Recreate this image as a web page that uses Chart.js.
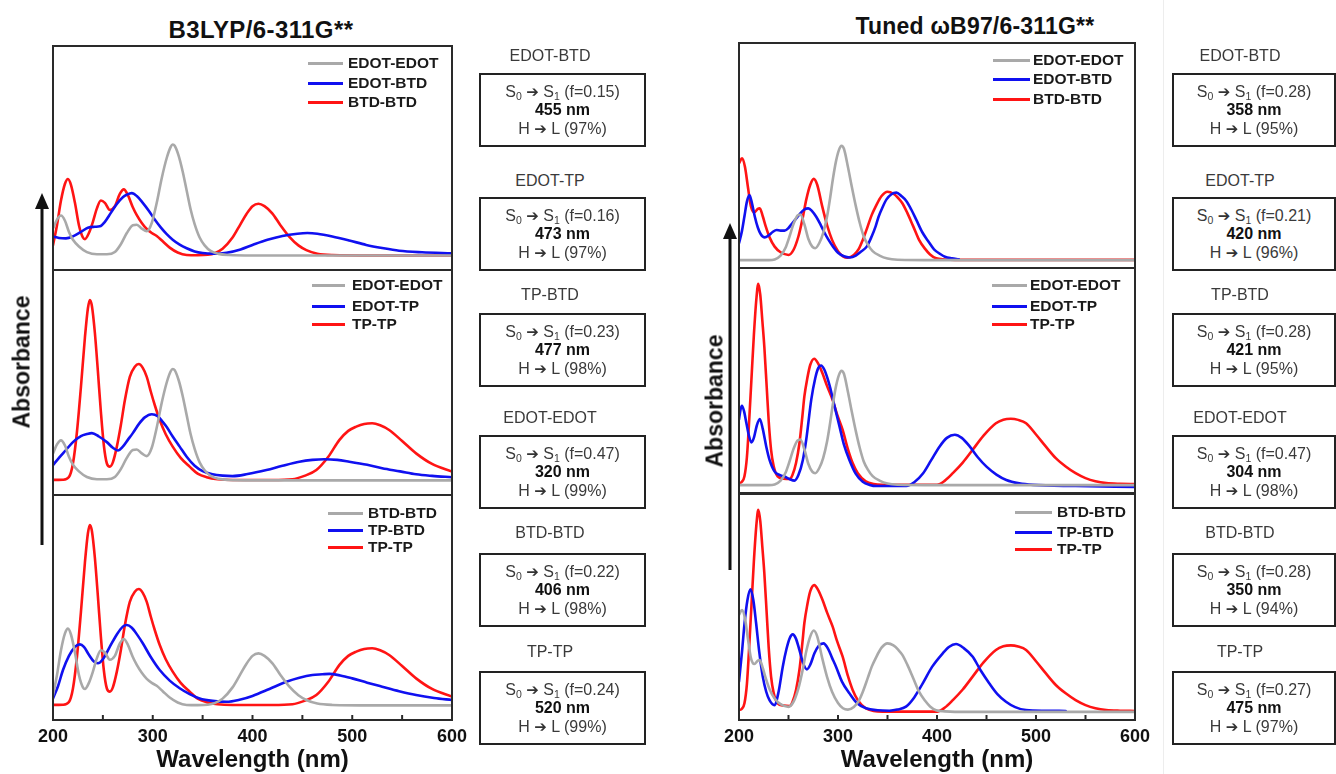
<!DOCTYPE html>
<html><head><meta charset="utf-8">
<script src="https://cdn.jsdelivr.net/npm/chart.js@4.4.1/dist/chart.umd.min.js"></script>
<style>
html,body{margin:0;padding:0;width:1336px;height:774px;overflow:hidden;background:#fff;font-family:"Liberation Sans",Arial,sans-serif;}
body{position:relative;}
canvas{position:absolute;}
.abs{position:absolute;white-space:nowrap;}
.title{font-weight:bold;color:#111;transform:translate(-50%,-50%);line-height:1;}
.ylab{font-weight:bold;font-size:23px;color:#111;transform:translate(-50%,-50%) rotate(-90deg);line-height:1;}
.leg{font-weight:bold;font-size:15.5px;color:#1a1a1a;line-height:18px;height:18px;}
.legline{position:absolute;height:3px;}
.lbl{font-size:16px;color:#3a3a3a;transform:translate(-50%,-50%);line-height:1;}
.box{position:absolute;border:2px solid #222;box-sizing:border-box;text-align:center;font-size:16px;color:#3a3a3a;line-height:18.5px;padding-top:7.5px;white-space:nowrap;overflow:hidden;}
.box b{color:#111;}
.box sub{font-size:10.5px;vertical-align:-3px;line-height:0;}
.arr{font-family:"DejaVu Sans",sans-serif;font-size:15px;color:#333;font-weight:bold;line-height:0;}
</style></head><body>
<div class="abs" style="left:1163px;top:0;width:1px;height:774px;background:#ededed;"></div>
<svg class="abs" style="left:0;top:0" width="1336" height="774">
  <line x1="42" y1="545" x2="42" y2="206" stroke="#111" stroke-width="3"/>
  <polygon points="35,209 49,209 42,193" fill="#111"/>
  <line x1="730" y1="570" x2="730" y2="236" stroke="#111" stroke-width="3"/>
  <polygon points="723,239 737,239 730,223" fill="#111"/>
</svg>
<script>
// ---------- data (wavelength in nm, absorbance in arbitrary units 0-100 per sub-panel) ----------
// B3LYP/6-311G**
const B3_EE_NM  = [200,204,208,212,216,220,226,234,244,254,262,268,274,280,284,289,294,299,304,309,314,318,320,322,326,330,334,338,342,347,352,358,366,376,400,600];
const B3_EE_ABS = [18.5,22.5,24.3,22,17,13.5,10.5,8,7,7,8,11.5,16.5,20,20.2,18.5,17.3,21,30,41,50,55,56,55.5,51,44,35.5,27,20.5,14.5,11,8.5,7.2,6.7,6.5,6.5];
const B3_EB_NM  = [200,206,213,220,228,235,242,247,252,258,264,270,274,279,284,290,296,302,308,314,320,327,334,342,350,360,374,388,400,415,430,445,455,465,480,497,514,530,547,570,600];
const B3_EB_ABS = [14.9,14.3,14.1,15,17,18.9,19.3,19.5,21.5,25.5,29.5,32.5,33.6,34.3,33,30,26.5,22.5,19,16,13.5,11.3,9.7,8.3,7.6,7.3,7.7,9.2,11.2,13.5,15.2,16.2,16.5,16.2,15,13.2,11.2,9.8,8.6,7.9,7.4];
const B3_BB_NM  = [200,204,208,212,215,218,222,226,230,232,236,240,244,248,252,257,262,267,271,275,280,284,289,294,299,304,310,317,325,334,345,355,362,370,380,388,394,400,406,412,420,428,437,446,454,465,480,520,600];
const B3_BB_ABS = [11,20,31,38.5,40.6,38,30,20,14.5,13.8,16.5,21.5,27.5,31,30,26.8,28.5,34,36,33.5,28,24.5,21,18.3,16.5,15.2,12.8,10,7.8,6.7,6.6,6.8,7.5,9.5,14.5,20.5,25,28.5,29.6,28.5,25.2,20,14.8,11,8.9,7.3,6.7,6.5,6.5];
const B3_ET_NM  = [200,206,213,220,228,234,239,246,254,260,265,270,275,280,286,292,299,305,310,314,320,327,334,342,350,360,370,380,395,414,430,447,460,472,485,497,515,530,548,564,580,600];
const B3_ET_ABS = [13.3,16.5,20,23.5,26.2,27.1,27.5,26,23.5,21,19.8,21.5,24.5,27.5,31.5,34.5,35.9,35,32.5,30.2,26,21.5,17,13,10.6,9.2,8.6,8.4,9.3,11.1,13,14.8,15.6,15.9,15.6,14.8,13.4,11.9,10.5,9.2,8.5,7.9];
const B3_TT_NM  = [200,210,216,220,224,228,232,235,237,239,242,245,248,251,254,257,260,264,268,272,277,282,286,290,294,298,302,307,313,320,328,337,345,354,365,380,420,440,452,464,476,487,496,504,512,520,528,537,550,564,580,600];
const B3_TT_ABS = [6.7,6.8,8,14,28,48,70,83,86.7,84,72,55,37,22,14,12.6,14.5,21.5,31,42,52.5,57,58.2,56.5,52.5,46,40,33.3,27,21.5,16.5,12.6,9.5,7.9,7,6.7,6.7,7,8.5,11.1,17,24.4,28.5,30.4,31.6,31.9,31,28.9,24,18.5,13.8,10.4];
const B3_TB_NM  = [200,205,210,216,222,227,231,236,241,245,250,257,264,270,274,279,285,290,298,307,317,327,337,347,360,374,387,400,417,434,447,460,470,477,488,500,515,530,547,564,582,600];
const B3_TB_ABS = [9.6,15,22.2,28.5,32.5,33.6,32.5,29,26,25.2,27,32.6,38,41.5,42.2,41,37.5,34.1,28,22.2,17.5,14.1,11.5,9.6,8.5,8.1,9,10.7,13.8,17,18.8,20,20.3,20.5,19.8,18.5,16.6,14.8,12.8,11.1,9.8,8.9];
// Tuned wB97/6-311G**
const TU_EE_NM  = [200,230,236,242,247,251,255,259,262,266,270,274,277,281,285,289,292,295,298,301,303.5,306,310,314,318,322,326,330,335,342,350,360,400,600];
const TU_EE_ABS = [3.5,3.5,3.8,5.5,9,14,19.5,23.3,23.8,19.5,13,9.5,8.8,11,15.5,23,31,40,47.5,52.5,54.3,53,45,36,27.5,20,14,10.5,7.5,5.5,4.2,3.7,3.5,3.5];
const TU_EB_NM  = [200,203,205.5,208,210.5,213,216,219,222,226,230,234,238,242,246,250,254,258,262,266,270,274,278,282,286,290,295,300,306,312,318,323,329,334,338,341,345,349,354,359,364,369,374,379,385,391,397,403,408,415,422];
const TU_EB_ABS = [11,16.5,23,29.5,32.4,29,22.8,18,15,13.6,14.5,16,16.9,16.6,16.6,17.8,20,22.1,24.3,26,26.5,25.2,22.8,19.6,16,12.8,9.5,6.8,5.2,4.7,5.5,7.2,9.5,14,18.5,22.8,27,30.5,32.8,33.5,32,29.8,26,21.5,16,12,8.3,6.3,5,4.3,3.9];
const TU_BB_NM  = [200,203,206,209,212,215.5,219,221,224,227,231,236,242,250,255,260,264,268,272,275.5,279,284,289,294,300,305,310,316,321,325,330,334,338,344,350,356,361,365,370,376,382,388,393,399,408,418,600];
const TU_BB_ABS = [46.5,48.7,45,36,27.5,24.8,26.3,26.5,23,18.5,13.5,9.5,7,5.8,8,14,21.5,30.5,37,39.6,37,27.5,19,12.5,7.5,5.2,4.6,5.8,8.5,12.4,18.5,23.5,27.3,32,33.9,33,31,28.8,24.5,18.5,12.4,8.5,6,4.3,3.8,3.6,3.6];
const TU_ET_NM  = [200,201.5,203,205,207.5,210,212.5,215,218,221,224,227.5,231,236,241,246,251,256,260,264.5,268,273,277,280,283,286,289,292,296,301.5,306,311.5,318,325,332,339,369,377,386,394,402.7,410,418,425,433,441,450,460,470,483,497,540,600];
const TU_ET_ABS = [32.6,37,38.8,36.5,31,25.5,22.5,24.5,30,32.9,28.5,20.7,14.5,9.5,8,7.3,6.2,5.5,8,14.7,24,41.5,51,55.5,56.7,55,51.5,47,39.5,29.6,21.5,14.7,8.5,5,3.6,3.1,3.1,4.8,8.8,14.5,20.7,24.5,25.9,24.5,20.7,16,11.7,8.2,5.8,4.3,3.6,3.1,2.7];
const TU_TT_NM  = [200,203,205.5,208,210,212.5,215,217.5,219.5,221.5,223.5,225.6,228,230,232.4,235,239,245,251,254,257.6,261,264,266,269,272,276,280,284.4,289,294.6,299,304.7,310,314.8,320,328,336,345,400,408,416,426,436,447,459.5,467,474.6,482,490,500,510,520,530,540,550,560,571,585,600];
const TU_TT_ABS = [4.4,5,7.4,16,30,50,70,86,93,88,77,64.9,47,32,19.2,12,7.4,6.4,6.2,8,13.3,22,34,42.8,51,57,59.7,57.5,53.1,47.5,41.3,35,28,19.5,13.3,8.8,5.2,4,3.7,3.7,5.5,8.8,13.5,19.2,25.5,31,32.6,33,32.5,31,26,20.6,15.5,11.8,8.8,6.6,5.2,4.4,4.1,4];
const TU_TB_NM  = [200,203,205.6,208.5,211.6,214.5,217.3,220.5,224,227.5,230.8,235.8,240,244.2,248,251,254.3,257.5,261,264.5,268.5,272,276.2,280.5,285.3,290,294,298,304,311.5,319,328.3,340,351.9,360,368.7,377,385.6,395,405.8,412,419.2,427,436.1,444,452.9,461,469.7,479,489.9,510,530];
const TU_TB_ABS = [17,30,42.8,53,57.8,53,42.8,30,19.2,12.5,8.8,6.6,12.5,23.6,31.5,36,37.9,36,31,25.5,22.4,24.5,29.5,32.8,33.9,31.5,27.5,23.6,17,11.8,7.5,5.2,4.3,4.1,4.6,5.9,10,16.2,23.5,29.5,32.3,33.6,31.8,28,22,16.2,11.5,8.1,5.7,4.4,4.1,4];

const X_TICKS = [200,300,400,500,600];

// transition boxes
const BOX_NAMES = ['EDOT-BTD','EDOT-TP','TP-BTD','EDOT-EDOT','BTD-BTD','TP-TP'];
const B3_F      = ['0.15','0.16','0.23','0.47','0.22','0.24'];
const B3_LAMBDA = [455,473,477,320,406,520];
const B3_HL     = [97,97,98,99,98,99];
const TU_F      = ['0.28','0.21','0.28','0.47','0.28','0.27'];
const TU_LAMBDA = [358,420,421,304,350,475];
const TU_HL     = [95,96,95,98,94,97];

// ---------- styles / layout ----------
const GRAY = '#a9a9a9', BLUE = '#1010f0', RED = '#ff1414';
const FONT = '"Liberation Sans", Arial, sans-serif';
const S = (nm, abs, color, name) => ({nm, abs, color, name});

const panels = [
  {left:53, width:399, subs:[
    {top:46, h:224, series:[S(B3_EE_NM,B3_EE_ABS,GRAY,'EDOT-EDOT'),S(B3_EB_NM,B3_EB_ABS,BLUE,'EDOT-BTD'),S(B3_BB_NM,B3_BB_ABS,RED,'BTD-BTD')],
     leg:{x0:308,x1:343,tx:348,rows:[63,83,102]}},
    {top:270, h:225, series:[S(B3_EE_NM,B3_EE_ABS,GRAY,'EDOT-EDOT'),S(B3_ET_NM,B3_ET_ABS,BLUE,'EDOT-TP'),S(B3_TT_NM,B3_TT_ABS,RED,'TP-TP')],
     leg:{x0:312,x1:345,tx:352,rows:[285,306,324]}},
    {top:495, h:225, series:[S(B3_BB_NM,B3_BB_ABS,GRAY,'BTD-BTD'),S(B3_TB_NM,B3_TB_ABS,BLUE,'TP-BTD'),S(B3_TT_NM,B3_TT_ABS,RED,'TP-TP')],
     leg:{x0:328,x1:363,tx:368,rows:[513,530,547]}}
  ]},
  {left:739, width:396, subs:[
    {top:43, h:225, series:[S(TU_EE_NM,TU_EE_ABS,GRAY,'EDOT-EDOT'),S(TU_EB_NM,TU_EB_ABS,BLUE,'EDOT-BTD'),S(TU_BB_NM,TU_BB_ABS,RED,'BTD-BTD')],
     leg:{x0:993,x1:1030,tx:1033,rows:[60,79,99]}},
    {top:268, h:225, series:[S(TU_EE_NM,TU_EE_ABS,GRAY,'EDOT-EDOT'),S(TU_ET_NM,TU_ET_ABS,BLUE,'EDOT-TP'),S(TU_TT_NM,TU_TT_ABS,RED,'TP-TP')],
     leg:{x0:992,x1:1027,tx:1030,rows:[285,306,324]}},
    {top:494, h:226, series:[S(TU_BB_NM,TU_BB_ABS,GRAY,'BTD-BTD'),S(TU_TB_NM,TU_TB_ABS,BLUE,'TP-BTD'),S(TU_TT_NM,TU_TT_ABS,RED,'TP-TP')],
     leg:{x0:1015,x1:1052,tx:1057,rows:[512,532,549]}}
  ]}
];

const framePlugin = {
  id:'frame',
  afterDraw(chart, args, opts){
    const {ctx, chartArea:a} = chart;
    ctx.save();
    ctx.strokeStyle = '#2a2a2a'; ctx.lineWidth = 2;
    ctx.strokeRect(a.left, a.top, a.right - a.left, a.bottom - a.top);
    if (opts.ticks) {
      const xs = chart.scales.x;
      for (let v = X_TICKS[0]; v <= X_TICKS[X_TICKS.length-1]; v += 50) {
        const px = xs.getPixelForValue(v);
        ctx.beginPath(); ctx.moveTo(px, a.bottom); ctx.lineTo(px, a.bottom - 5); ctx.stroke();
      }
    }
    ctx.restore();
  }
};

function addDiv(cls, html, style){
  const d = document.createElement('div');
  d.className = 'abs ' + cls; d.innerHTML = html;
  Object.assign(d.style, style);
  document.body.appendChild(d); return d;
}

function makeChart(panel, sub, isBottom){
  const padX = 34, padT = 3;
  const top = sub.top - padT;
  const height = isBottom ? (772 - top) : sub.h + 6;
  const width = panel.width + 2*padX;
  const cv = document.createElement('canvas');
  cv.width = width; cv.height = height;
  cv.style.left = (panel.left - padX) + 'px'; cv.style.top = top + 'px';
  cv.style.width = width + 'px'; cv.style.height = height + 'px';
  document.body.appendChild(cv);
  new Chart(cv, {
    type:'line',
    data:{datasets: sub.series.map(s => ({
      label: s.name,
      data: s.nm.map((x,i) => ({x, y: s.abs[i]})),
      borderColor: s.color, borderWidth: 2.6, pointRadius: 0,
      cubicInterpolationMode: 'monotone', fill: false, borderJoinStyle: 'round', borderCapStyle: 'round'
    }))},
    options:{
      responsive:false, animation:false, devicePixelRatio:1, events:[],
      layout:{padding:{left:padX, right:padX, top:padT, bottom: isBottom ? 0 : 3}},
      plugins:{legend:{display:false}, tooltip:{enabled:false}, frame:{ticks:isBottom}},
      scales:{
        x:{type:'linear', min:X_TICKS[0], max:X_TICKS[X_TICKS.length-1], display:isBottom,
           grid:{display:false, drawTicks:false}, border:{display:false},
           afterBuildTicks: ax => { ax.ticks = X_TICKS.map(v => ({value:v})); },
           ticks:{padding:8, color:'#111', autoSkip:false, maxRotation:0,
                  font:{family:FONT, size:18, weight:'bold', lineHeight:1}},
           title:{display:true, text:'Wavelength (nm)', color:'#111',
                  font:{family:FONT, size:24, weight:'bold', lineHeight:1}, padding:{top:-6, bottom:0}}},
        y:{min:0, max:100, display:false}
      }
    },
    plugins:[framePlugin]
  });
  // legend
  const L = sub.leg;
  sub.series.forEach((s, i) => {
    const y = L.rows[i];
    const ln = document.createElement('div');
    ln.className = 'legline';
    Object.assign(ln.style, {left:L.x0+'px', top:(y-1.5)+'px', width:(L.x1-L.x0)+'px', background:s.color});
    document.body.appendChild(ln);
    addDiv('leg', s.name, {left:L.tx+'px', top:(y-9)+'px'});
  });
}

panels.forEach(p => p.subs.forEach((s, i) => makeChart(p, s, i === p.subs.length - 1)));

// titles & axis labels
addDiv('title', 'B3LYP/6-311G**', {left:'261px', top:'30px', fontSize:'24px', letterSpacing:'0.4px'});
addDiv('title', 'Tuned \u03C9B97/6-311G**', {left:'975px', top:'26px', fontSize:'23px', letterSpacing:'0.2px'});
addDiv('ylab', 'Absorbance', {left:'22px', top:'362px'});
addDiv('ylab', 'Absorbance', {left:'715px', top:'401px'});

// transition boxes
const LABEL_Y = [56,181,295,418,533,652];
const BOX_TOP = [73,197,313,435,553,671];
const ARROW = '<span class="arr">\u2794</span>';
function boxes(colLeft, colWidth, labelX, F, LAM, HL){
  BOX_NAMES.forEach((name, i) => {
    addDiv('lbl', name, {left:labelX+'px', top:LABEL_Y[i]+'px'});
    addDiv('box',
      'S<sub>0</sub> ' + ARROW + ' S<sub>1</sub> (f=' + F[i] + ')<br><b>' + LAM[i] + ' nm</b><br>H ' + ARROW + ' L (' + HL[i] + '%)',
      {left:colLeft+'px', top:BOX_TOP[i]+'px', width:colWidth+'px', height:'74px'});
  });
}
boxes(479, 167, 550, B3_F, B3_LAMBDA, B3_HL);
boxes(1172, 164, 1240, TU_F, TU_LAMBDA, TU_HL);
</script>
</body></html>
